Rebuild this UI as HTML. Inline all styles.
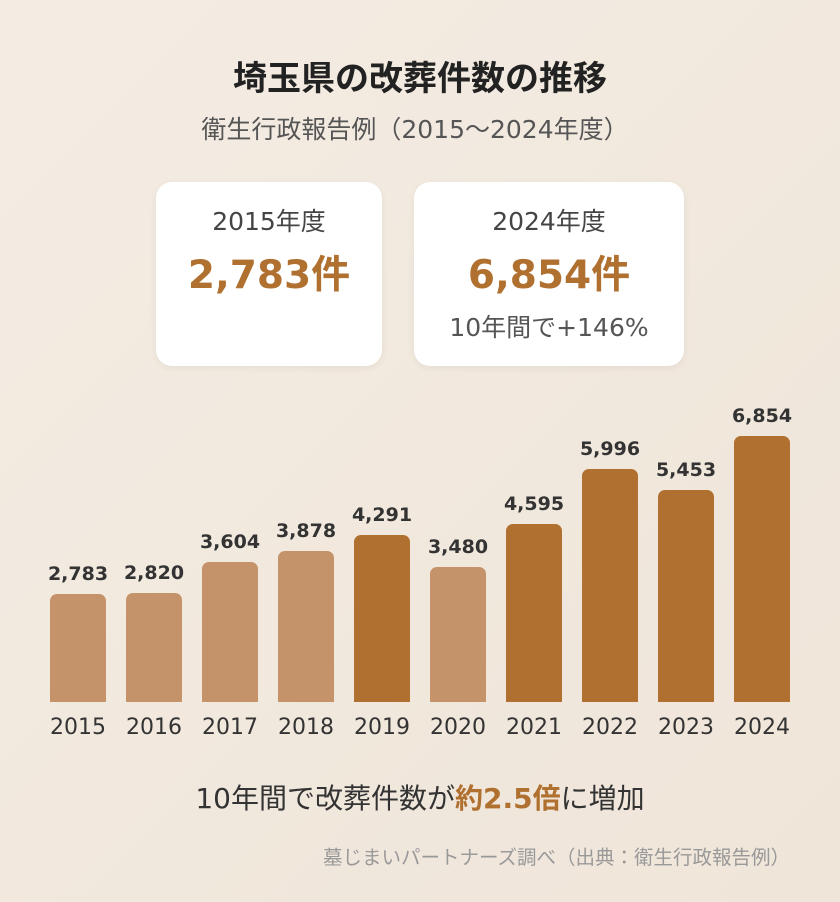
<!DOCTYPE html>
<html><head><meta charset="utf-8"><style>
*{margin:0;padding:0;box-sizing:border-box}
body{width:840px;height:902px;overflow:hidden;background:linear-gradient(135deg,#f4ece3,#efe5d9);font-family:"DejaVu Sans","Noto Sans CJK JP",sans-serif;position:relative;color:#333}
.abs{position:absolute;white-space:nowrap}
.c{left:0;width:840px;text-align:center}
.card{position:absolute;top:182px;height:184px;background:#fff;border-radius:16px;box-shadow:0 2px 8px rgba(0,0,0,0.06);text-align:center}
.card .y{position:absolute;top:20px;left:0;right:0;font-size:25px;color:#444}
.card .v{position:absolute;top:62px;left:0;right:0;font-size:39px;font-weight:bold;color:#b07030}
.card .n{position:absolute;top:126px;left:0;right:0;font-size:25px;color:#555}
.bar{position:absolute;width:56px;border-radius:7px 7px 0 0}
.val{position:absolute;width:76px;text-align:center;font-size:19px;font-weight:bold;color:#333}
.yr{position:absolute;top:715px;width:76px;text-align:center;font-size:22px;color:#333}
</style></head><body>
<div class="abs c" style="top:51px;font-size:34px;font-weight:bold;color:#222">埼玉県の改葬件数の推移</div>
<div class="abs c" style="top:110px;font-size:25px;color:#555;padding-right:10px">衛生行政報告例（2015～2024年度）</div>
<div class="card" style="left:156px;width:226px"><div class="y">2015年度</div><div class="v">2,783件</div></div>
<div class="card" style="left:414px;width:270px"><div class="y">2024年度</div><div class="v">6,854件</div><div class="n">10年間で+146%</div></div>
<div id="ch"></div>
<div class="abs c" style="top:777px;font-size:28px;color:#333">10年間で改葬件数が<b style="color:#b07030">約2.5倍</b>に増加</div>
<div class="abs" style="top:841px;right:50px;font-size:19.5px;color:#999">墓じまいパートナーズ調べ（出典：衛生行政報告例）</div>
<script>
var d=[[2015,2783,0],[2016,2820,0],[2017,3604,0],[2018,3878,0],[2019,4291,1],[2020,3480,0],[2021,4595,1],[2022,5996,1],[2023,5453,1],[2024,6854,1]];
var h='';
d.forEach(function(e,i){var x=50+76*i;var hh=Math.round(e[1]*266/6854);var top=702-hh;
h+='<div class="bar" style="left:'+x+'px;top:'+top+'px;height:'+hh+'px;background:'+(e[2]?'#b07030':'#c4936a')+'"></div>';
h+='<div class="val" style="left:'+(x-10)+'px;top:'+(top-31)+'px">'+e[1].toLocaleString('en-US')+'</div>';
h+='<div class="yr" style="left:'+(x-10)+'px">'+e[0]+'</div>';});
document.getElementById('ch').innerHTML=h;
</script>
</body></html>
